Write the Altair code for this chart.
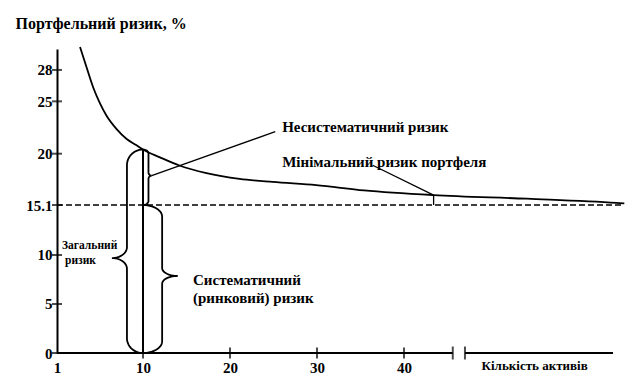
import altair as alt
import pandas as pd
import numpy as np

# ---- data ----
n_assets = [3.41, 4.11, 4.80, 5.50, 6.20, 7.24, 8.29, 9.33, 10.0, 11.95, 14.25, 17.3, 21.1, 24.9, 29.9, 35.4, 43.4, 54.1, 64.4, 65.3]
risk = [30.2, 28.2, 26.3, 24.8, 23.6, 22.35, 21.4, 20.8, 20.4, 19.65, 18.85, 18.15, 17.6, 17.3, 17.0, 16.5, 16.05, 15.7, 15.3, 15.25]

min_risk = 15.1          # systematic (market) risk level
chosen_n = 10            # portfolio with 10 assets
chosen_risk = 20.4       # its total risk
min_point_n = 43.4       # "minimal portfolio risk" marker
min_point_risk = 16.05

y_tick_values = [0, 5, 10, 15.1, 20, 25, 28]
x_tick_values = [1, 10, 20, 30, 40]
x_tick_marks = [10, 20, 30, 40]
x_break = [45.6, 47.0]
x_end = 64.0
dash_end = 65.1

W, H = 556, 304
# hand-drawn diagram: piecewise-linear scales follow the drawing's tick spacing
xscale = alt.Scale(domain=[1, 10, 40, 64], range=[0, 86, 347, W], nice=False, zero=False)
yscale = alt.Scale(domain=[0, 15.1, 30], range=[H, 156, 0], nice=False, zero=False)

FONT = "Liberation Serif"

x_axis = alt.Axis(
    values=x_tick_values, ticks=False, domain=False, grid=False,
    labelFont=FONT, labelFontWeight="bold", labelFontSize=15, labelColor="black",
    labelPadding=7, title=None, labelExpr="'' + datum.value", labelFlush=False, labelOverlap=False)
y_axis = alt.Axis(
    values=y_tick_values, ticks=False, domain=True, domainColor="black", domainWidth=2,
    grid=False, labelFont=FONT, labelFontWeight="bold", labelFontSize=15,
    labelColor="black", labelPadding=5, labelExpr="'' + datum.value", labelFlush=False,
    labelOverlap=False,
    title="Портфельний ризик, %", titleAngle=0, titleAlign="left",
    titleBaseline="middle", titleX=-42, titleY=-26, titleFont=FONT,
    titleFontWeight="bold", titleFontSize=16, titleColor="black")


def X(f="x"):
    return alt.X(f, type="quantitative", scale=xscale, axis=x_axis)


def Y(f="y"):
    return alt.Y(f, type="quantitative", scale=yscale, axis=y_axis)


def brace(name, xb, xs, xt, y0, y1, yt, ry, ry2, n=14):
    t = np.linspace(0, np.pi / 2, n)
    xs_, ys_ = [], []
    xs_ += list(xb + (xs - xb) * np.sin(t)); ys_ += list(y1 - ry + ry * np.cos(t))
    xs_ += list(xt + (xs - xt) * np.cos(t)); ys_ += list(yt + ry2 - ry2 * np.sin(t))
    xs_ += list(xt + (xs - xt) * np.sin(t)); ys_ += list(yt - ry2 + ry2 * np.cos(t))
    xs_ += list(xs + (xb - xs) * (1 - np.cos(t))); ys_ += list(y0 + ry - ry * np.sin(t))
    return pd.DataFrame({"x": xs_, "y": ys_, "o": range(len(xs_)), "id": name})


curve = alt.Chart(pd.DataFrame({"x": n_assets, "y": risk})).mark_line(
    color="black", strokeWidth=1.8, interpolate="monotone", clip=False
).encode(x=X(), y=Y())

dash = alt.Chart(pd.DataFrame({"x": [1], "x2": [dash_end], "y": [min_risk]})).mark_rule(
    color="black", strokeWidth=1.5, strokeDash=[6, 3], clip=False
).encode(x=X(), x2="x2", y=Y())

axis_segs = alt.Chart(pd.DataFrame({"x": [1, x_break[1]], "x2": [x_break[0], x_end], "y": [0, 0]})).mark_rule(
    color="black", strokeWidth=2, clip=False
).encode(x=X(), x2="x2", y=Y())

xticks = alt.Chart(pd.DataFrame({"x": x_tick_marks, "y": [0] * len(x_tick_marks)})).mark_tick(
    color="black", orient="vertical", size=11, thickness=2, clip=False
).encode(x=X(), y=Y())

brk = alt.Chart(pd.DataFrame({"x": x_break, "y": [0, 0]})).mark_tick(
    color="black", orient="vertical", size=13, thickness=2, clip=False
).encode(x=X(), y=Y())

yticks = alt.Chart(pd.DataFrame({"x": [1] * len(y_tick_values), "y": y_tick_values})).mark_tick(
    color="black", orient="horizontal", size=10, thickness=2, clip=False
).encode(x=X(), y=Y())

vline = alt.Chart(pd.DataFrame({"x": [chosen_n], "y": [0], "y2": [chosen_risk]})).mark_rule(
    color="black", strokeWidth=2
).encode(x=X(), y=Y(), y2="y2")

minline = alt.Chart(pd.DataFrame({"x": [min_point_n], "y": [min_risk], "y2": [min_point_risk]})).mark_rule(
    color="black", strokeWidth=1.3
).encode(x=X(), y=Y(), y2="y2")

braces_df = pd.concat([
    brace("total", chosen_n, 8.32, 6.75, 0, chosen_risk, 9.69, 1.5, 1.1),
    brace("syst", chosen_n, 12.2, 14.0, 0, min_risk, 7.86, 1.2, 0.8),
    brace("unsyst", chosen_n, 10.63, 11.0, min_risk, chosen_risk, 17.9, 0.4, 0.3),
])
braces = alt.Chart(braces_df).mark_line(color="black", strokeWidth=1.8, clip=False).encode(
    x=X(), y=Y(), order="o:Q", detail="id:N")

leaders_df = pd.DataFrame({
    "x": [11.0, 25.2, 36.4, min_point_n],
    "y": [17.9, 22.1, 18.9, min_point_risk],
    "o": [0, 1, 0, 1],
    "id": ["a", "a", "b", "b"],
})
leaders = alt.Chart(leaders_df).mark_line(color="black", strokeWidth=1.3).encode(
    x=X(), y=Y(), order="o:Q", detail="id:N")

labels_df = pd.DataFrame({
    "x": [26.0, 26.0, 15.75, 15.75],
    "y": [22.55, 19.2, 7.45, 5.6],
    "t": ["Несистематичний  ризик", "Мінімальний ризик портфеля", "Систематичний", "(ринковий) ризик"],
})
labels = alt.Chart(labels_df).mark_text(
    align="left", baseline="middle", font=FONT, fontWeight="bold", fontSize=15, color="black", clip=False
).encode(x=X(), y=Y(), text="t:N")

small_df = pd.DataFrame({"x": [1.52, 1.84], "y": [10.9, 9.4], "t": ["Загальний", "ризик"]})
small = alt.Chart(small_df).mark_text(
    align="left", baseline="middle", font=FONT, fontWeight="bold", fontSize=11.5, color="black"
).encode(x=X(), y=Y(), text="t:N")

xtitle_df = pd.DataFrame({"x": [55.0], "y": [-1.33], "t": ["Кількість активів"]})
xtitle = alt.Chart(xtitle_df).mark_text(
    align="center", baseline="middle", font=FONT, fontWeight="bold", fontSize=13, color="black", clip=False
).encode(x=X(), y=Y(), text="t:N")

chart = alt.layer(
    curve, dash, axis_segs, xticks, brk, yticks, vline, minline, braces, leaders, labels, small, xtitle
).properties(
    width=W, height=H,
    autosize=alt.AutoSizeParams(type="none"),
    padding={"left": 49, "top": 41, "right": 15, "bottom": 28},
    background="white",
).configure_view(stroke=None)

chart.save("out.html", embed_options={"renderer": "svg", "actions": False})
